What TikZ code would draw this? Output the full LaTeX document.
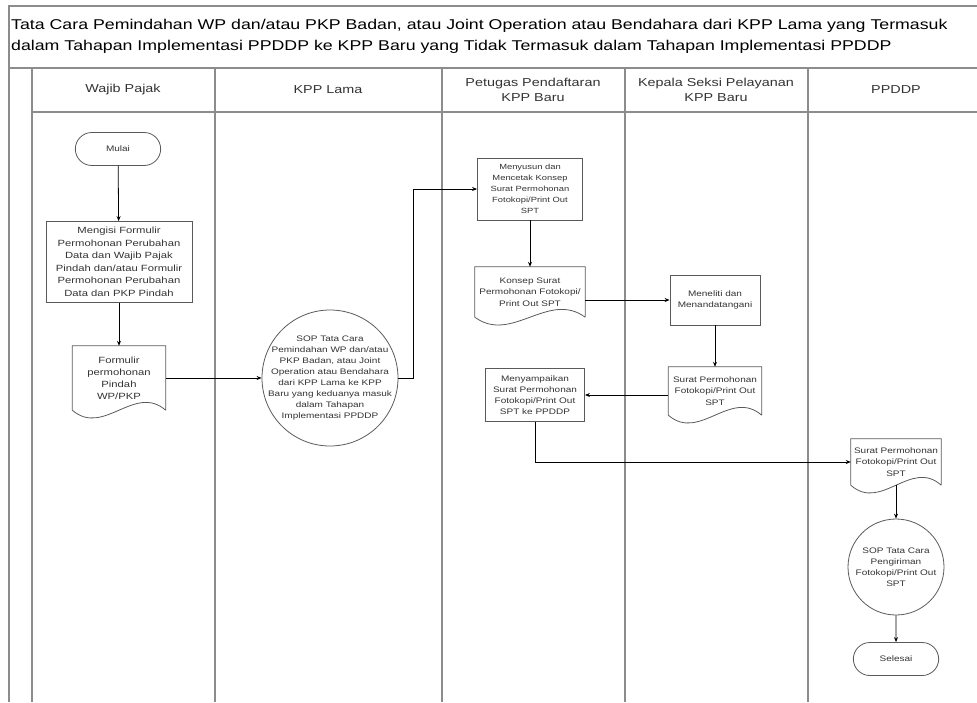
\documentclass[tikz,border=0pt]{standalone}
\usepackage{fontspec}
\setmainfont{Liberation Sans}[FakeStretch=1.25]
\usepackage{tikz}
\usetikzlibrary{shapes.geometric, arrows, arrows.meta, calc, positioning}
\usepackage{xcolor}
\definecolor{lanegray}{HTML}{8C8C8C}
\definecolor{boxgray}{HTML}{5A5A5A}
\definecolor{txtgray}{HTML}{333333}
\tikzstyle{lane} = [draw=lanegray, line width=1.6pt]
\tikzstyle{arrow} = [line width=0.8pt,->,>={Stealth[length=5pt,width=4pt]}]
\tikzstyle{head} = [text=txtgray, align=center, font=\fontsize{11.5}{15}\selectfont]
\tikzstyle{term} = [draw=boxgray, line width=0.8pt, rounded rectangle, minimum width=92, minimum height=33, text=txtgray, font=\fontsize{8}{11}\selectfont]
\tikzstyle{proc} = [draw=boxgray, line width=0.8pt, rectangle, align=center, inner sep=1pt, text=txtgray, font=\fontsize{8}{11}\selectfont]
\tikzstyle{doc} = [rectangle, align=center, inner sep=1pt, text=txtgray, font=\fontsize{8}{11.5}\selectfont]
\tikzstyle{sop} = [draw=boxgray, line width=0.8pt, circle, align=center, inner sep=-12pt, text=txtgray, font=\fontsize{8}{11}\selectfont]
\usetikzlibrary{shapes.misc}
% outline of a document shape round a doc node
\newcommand{\docframe}[1]{%
  \draw[draw=boxgray, line width=0.8pt] (#1.south east) -- (#1.north east) -- (#1.north west) -- (#1.south west)
    .. controls ($(#1.south west)!0.333!(#1.south east)+(0,27)$) and ($(#1.south west)!0.667!(#1.south east)+(0,-27)$) .. (#1.south east);}

\begin{document}
\begin{tikzpicture}[x=1pt, y=-1pt]
        \useasboundingbox (0,0) rectangle (977,702);
        % frame and swimlanes
        \draw[lane] (9,702) -- (9,6) -- (977,6);
        \draw[lane] (9,68) -- (977,68);
        \draw[lane] (32,112) -- (977,112);
        \foreach \x in {32,215,442,625,808}
                \draw[lane] (\x,68) -- (\x,702);
        \node[anchor=west, align=left, inner sep=0pt, font=\fontsize{14.2}{21}\selectfont] (title) at (11,36)
                {Tata Cara Pemindahan WP dan/atau PKP Badan, atau Joint Operation atau Bendahara dari KPP Lama yang Termasuk\\
                dalam Tahapan Implementasi PPDDP ke KPP Baru yang Tidak Termasuk dalam Tahapan Implementasi PPDDP};
        \node[head] (h1) at (123,90) {Wajib Pajak};
        \node[head] (h2) at (328,90) {KPP Lama};
        \node[head] (h3) at (533,90) {Petugas Pendaftaran\\KPP Baru};
        \node[head] (h4) at (716,90) {Kepala Seksi Pelayanan\\KPP Baru};
        \node[head] (h5) at (896,90) {PPDDP};

        % flow
        \node[term] (1) at (118,149) {Mulai};
        \node[proc, minimum width=146, minimum height=81, font=\fontsize{9}{12.5}\selectfont] (2) at (119,262)
                {Mengisi Formulir\\Permohonan Perubahan\\Data dan Wajib Pajak\\Pindah dan/atau Formulir\\Permohonan Perubahan\\Data dan PKP Pindah};
        \node[doc, minimum width=93, minimum height=64, font=\fontsize{9}{12}\selectfont] (3) at (119,378)
                {Formulir\\permohonan\\Pindah\\WP/PKP};
        \node[sop, minimum size=136] (4) at (330,378)
                {SOP Tata Cara\\Pemindahan WP dan/atau\\PKP Badan, atau Joint\\Operation atau Bendahara\\dari KPP Lama ke KPP\\Baru yang keduanya masuk\\dalam Tahapan\\Implementasi PPDDP};
        \node[proc, minimum width=105, minimum height=62, font=\fontsize{7.5}{11}\selectfont] (5) at (530,189)
                {Menyusun dan\\Mencetak Konsep\\Surat Permohonan\\Fotokopi/Print Out\\SPT};
        \node[doc, minimum width=110, minimum height=50] (6) at (530,292)
                {Konsep Surat\\Permohonan Fotokopi/\\Print Out SPT};
        \node[proc, minimum width=90, minimum height=50] (7) at (715,300)
                {Meneliti dan\\Menandatangani};
        \node[doc, minimum width=93, minimum height=48] (8) at (715,391)
                {Surat Permohonan\\Fotokopi/Print Out\\SPT};
        \node[proc, minimum width=99, minimum height=53] (9) at (535,395)
                {Menyampaikan\\Surat Permohonan\\Fotokopi/Print Out\\SPT ke PPDDP};
        \node[doc, minimum width=90, minimum height=46] (10) at (896,462)
                {Surat Permohonan\\Fotokopi/Print Out\\SPT};
        \node[sop, minimum size=96] (11) at (896,567)
                {SOP Tata Cara\\Pengiriman\\Fotokopi/Print Out\\SPT};
        \node[term] (12) at (896,659) {Selesai};
        \docframe{3}
        \docframe{6}
        \docframe{8}
        \docframe{10}

        \draw (1) edge[arrow] (2)
        (2) edge[arrow] (3)
        (3) edge[arrow] (4)
        (5) edge[arrow] (6)
        (7) edge[arrow] (8)
        (10) edge[arrow] (11)
        (11) edge[arrow] (12);
        \draw[arrow] (4.east) -- ++(15,0) |- (5.west);
        \draw[arrow] (6.east |- 7.west) -- (7.west);
        \draw[arrow] (8.west |- 9.east) -- (9.east);
        \draw[arrow] (9.south) |- (10.west);
\end{tikzpicture}
\end{document}
